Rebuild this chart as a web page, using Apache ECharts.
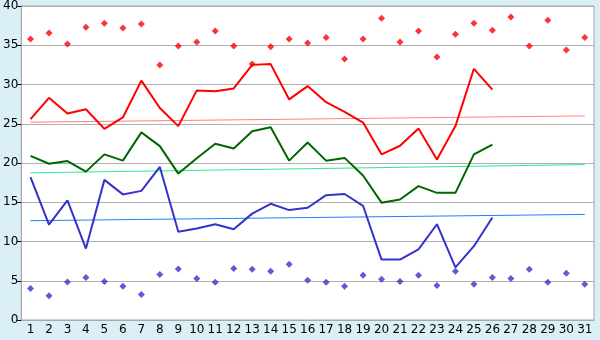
<!DOCTYPE html>
<html>
<head>
<meta charset="utf-8">
<script src="https://cdn.jsdelivr.net/npm/echarts@6/dist/echarts.min.js"></script>
<style>
  html, body { margin: 0; padding: 0; background: #daeff6; }
  #chart { width: 600px; height: 340px; }
</style>
</head>
<body>
<div id="chart"></div>
<script>
// days of the month
var days = [];
for (var d = 1; d <= 31; d++) days.push(String(d));

// daily maxima (red diamonds)
var maxTemps = [35.8, 36.55, 35.15, 37.3, 37.8, 37.2, 37.7, 32.5, 34.9, 35.4,
  36.8, 34.9, 32.6, 34.8, 35.8, 35.3, 36.0, 33.25, 35.8, 38.45,
  35.4, 36.8, 33.5, 36.4, 37.8, 36.9, 38.6, 34.9, 38.2, 34.4, 36.0];
// daily minima (blue diamonds)
var minTemps = [4.0, 3.1, 4.85, 5.4, 4.9, 4.3, 3.25, 5.8, 6.5, 5.3,
  4.8, 6.55, 6.45, 6.2, 7.1, 5.05, 4.8, 4.3, 5.7, 5.2,
  4.9, 5.7, 4.4, 6.2, 4.55, 5.4, 5.3, 6.45, 4.8, 5.95, 4.55];
// red / green / blue lines (26 days)
var highLine = [25.6, 28.3, 26.3, 26.85, 24.35, 25.8, 30.5, 27.0, 24.7, 29.25,
  29.15, 29.5, 32.5, 32.6, 28.1, 29.8, 27.75, 26.5, 25.15, 21.1,
  22.2, 24.4, 20.45, 24.7, 32.0, 29.35];
var midLine = [20.9, 19.9, 20.25, 18.9, 21.1, 20.3, 23.9, 22.15, 18.65, 20.6,
  22.45, 21.85, 24.05, 24.55, 20.3, 22.6, 20.3, 20.65, 18.4, 14.95,
  15.35, 17.05, 16.2, 16.2, 21.1, 22.35];
var lowLine = [18.2, 12.15, 15.25, 9.1, 17.85, 16.0, 16.45, 19.5, 11.25, 11.65,
  12.2, 11.55, 13.55, 14.8, 14.0, 14.3, 15.9, 16.05, 14.55, 7.7,
  7.7, 9.0, 12.2, 6.7, 9.4, 13.05];
// trend line endpoints (day 1, day 31)
var highTrend = [25.2, 26.0];
var midTrend = [18.75, 19.8];
var lowTrend = [12.65, 13.45];

var yTicks = [0, 40, 5];

function trend(ends) {
  var arr = [];
  for (var i = 0; i < days.length; i++) arr.push(null);
  arr[0] = ends[0];
  arr[days.length - 1] = ends[1];
  return arr;
}

var myChart = echarts.init(document.getElementById('chart'));

var option = {
  backgroundColor: '#daeff6',
  animation: false,
  textStyle: { fontFamily: 'DejaVu Sans' },
  grid: {
    left: 20, right: 6, top: 5, bottom: 20,
    show: true,
    backgroundColor: '#ffffff',
    borderColor: '#a8a8a8',
    borderWidth: 1
  },
  xAxis: {
    type: 'category',
    data: days,
    boundaryGap: true,
    axisLine: { lineStyle: { color: '#a8a8a8' } },
    axisTick: { alignWithLabel: true, length: 5, lineStyle: { color: '#000' } },
    axisLabel: { color: '#000', fontSize: 12, margin: 4, interval: 0 },
    splitLine: { show: false }
  },
  yAxis: {
    type: 'value',
    min: yTicks[0], max: yTicks[1], interval: yTicks[2],
    axisLine: { show: true, lineStyle: { color: '#a8a8a8' } },
    axisTick: { show: true, length: 4, lineStyle: { color: '#000' } },
    axisLabel: { color: '#000', fontSize: 12, margin: 3 },
    splitLine: { lineStyle: { color: '#b0b0b0' } }
  },
  series: [
    { type: 'line', data: trend(highTrend), connectNulls: true, symbol: 'none',
      lineStyle: { color: '#ff8080', width: 1 } },
    { type: 'line', data: trend(midTrend), connectNulls: true, symbol: 'none',
      lineStyle: { color: '#22f088', width: 1 } },
    { type: 'line', data: trend(lowTrend), connectNulls: true, symbol: 'none',
      lineStyle: { color: '#1a80ff', width: 1 } },
    { type: 'line', data: highLine, symbol: 'none',
      lineStyle: { color: '#ff0000', width: 2 } },
    { type: 'line', data: midLine, symbol: 'none',
      lineStyle: { color: '#006600', width: 2 } },
    { type: 'line', data: lowLine, symbol: 'none',
      lineStyle: { color: '#3333cc', width: 2 } },
    { type: 'scatter', data: maxTemps, symbol: 'diamond', symbolSize: 7,
      itemStyle: { color: '#ff0000' } },
    { type: 'scatter', data: minTemps, symbol: 'diamond', symbolSize: 7,
      itemStyle: { color: '#3333cc' } }
  ]
};

myChart.setOption(option);
</script>
</body>
</html>
